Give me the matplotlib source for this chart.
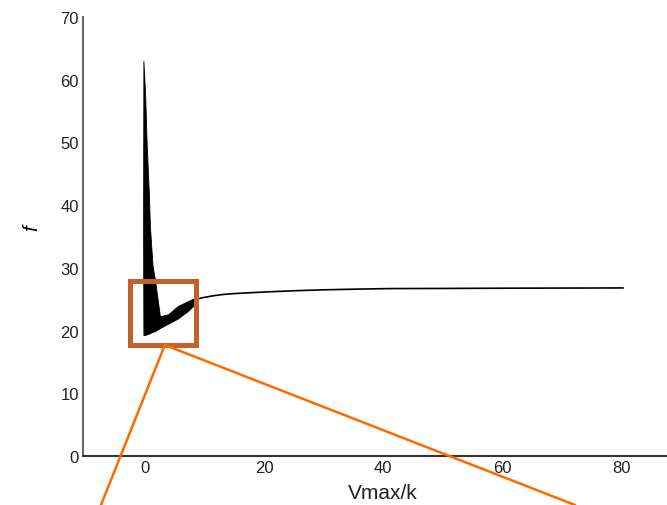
import matplotlib
matplotlib.use("Agg")
import matplotlib.pyplot as plt
from matplotlib.patches import Rectangle, ConnectionPatch

plt.rcParams['font.family'] = ['Liberation Sans', 'DejaVu Sans']

# dense oscillating start: upper / lower envelope
x_burst = [-0.3, -0.25, 0.05, 0.29, 0.67, 0.84, 1.29, 1.68, 2.52, 3.9, 5.5, 7.2, 8.4, 8.7]
f_upper = [38.0, 63.0, 57.4, 50.0, 41.8, 36.7, 30.3, 28.2, 22.3, 22.6, 23.9, 24.7, 25.2, 25.2]
f_lower = [36.0, 19.3, 19.3, 19.4, 19.5, 19.6, 19.8, 19.9, 20.4, 21.1, 21.9, 23.1, 24.2, 24.9]

# settled tail
x_tail = [8.6, 10.0, 11.5, 13.0, 15.0, 17.0, 20.0, 25.0, 30.0, 35.0, 41.2, 50.0, 60.0, 70.0, 80.3]
f_tail = [25.0, 25.3, 25.55, 25.75, 25.9, 26.0, 26.15, 26.35, 26.5, 26.6, 26.7, 26.72, 26.76, 26.78, 26.8]

# zoom box drawn on the plot
box_x = [-2.5, 8.6]
box_y = [17.7, 27.9]

x_ticks = [0, 20, 40, 60, 80]
y_ticks = [0, 10, 20, 30, 40, 50, 60, 70]

fig = plt.figure(figsize=(6.67, 5.06), dpi=100)
ax = fig.add_axes([0.1244, 0.0968, 0.8756, 0.8676])

ax.fill_between(x_burst, f_lower, f_upper, color='black', lw=0.6)
ax.plot(x_tail, f_tail, color='black', lw=1.2)

ax.set_xlim(-10.4, 87.7)
ax.set_ylim(0, 70)
ax.set_xticks(x_ticks)
ax.set_yticks(y_ticks)
ax.tick_params(length=0, labelsize=12, colors='#222222', pad=3)

for s in ['top', 'right']:
    ax.spines[s].set_visible(False)
ax.spines['left'].set_color('#666666')
ax.spines['bottom'].set_color('#333333')
ax.spines['left'].set_linewidth(1.5)
ax.spines['bottom'].set_linewidth(1.5)

fig.text(383 / 667, 1 - 494 / 506, 'Vmax/k', fontsize=15, ha='center', va='center', color='#222222')
fig.text(32 / 667, 1 - 228 / 506, 'f', fontsize=15, style='italic', rotation=90,
         ha='center', va='center', color='black')

rect = Rectangle((box_x[0], box_y[0]), box_x[1] - box_x[0], box_y[1] - box_y[0],
                 fill=False, edgecolor='#C0622A', lw=3.6, zorder=5)
ax.add_patch(rect)

anchor = (3.35, box_y[0])
for end in [(101 / 667, 0.0), (575 / 667, 0.0)]:
    con = ConnectionPatch(xyA=anchor, coordsA=ax.transData, xyB=end, coordsB=fig.transFigure,
                          color='#FF6A00', lw=1.8, zorder=6)
    fig.add_artist(con)

fig.savefig('out.png', dpi=100)
